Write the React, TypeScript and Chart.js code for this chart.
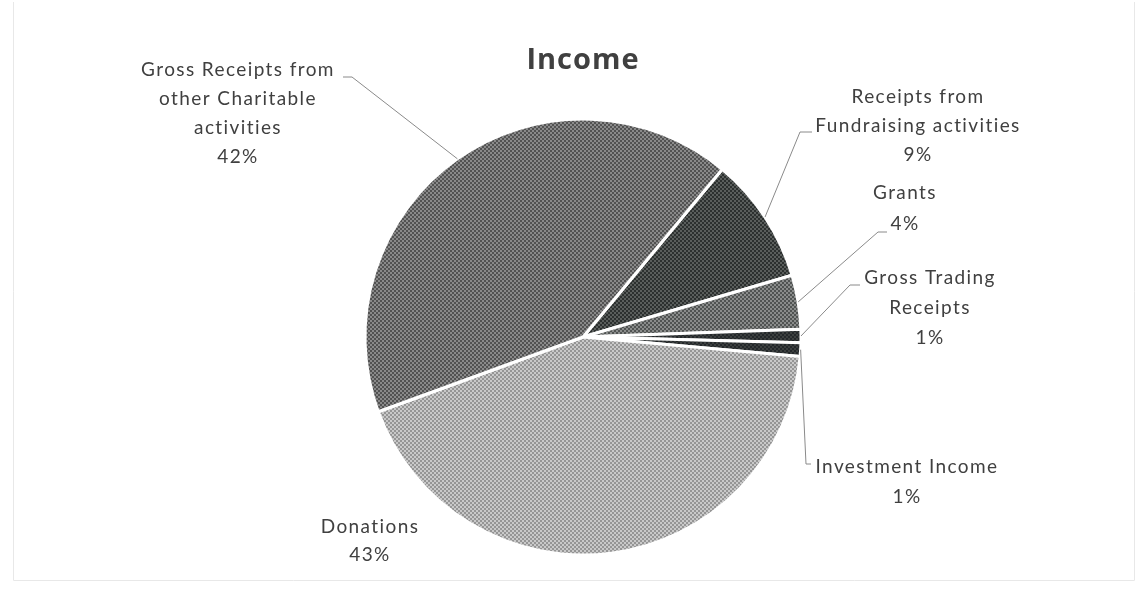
import React, { useEffect, useRef } from "react";
import { Chart, registerables } from "chart.js";

Chart.register(...registerables);

const chartTitle = "Income";
const categories = [
  "Receipts from Fundraising activities",
  "Grants",
  "Gross Trading Receipts",
  "Investment Income",
  "Donations",
  "Gross Receipts from other Charitable activities",
];
const shares = [9.4, 4.0, 1.0, 1.0, 43.0, 41.6];
const labelLines = [
  ["Receipts from", "Fundraising activities"],
  ["Grants"],
  ["Gross Trading", "Receipts"],
  ["Investment Income"],
  ["Donations"],
  ["Gross Receipts from", "other Charitable", "activities"],
];

// styles: [dark dot, light dot] halftone tones
const sliceTones = [
  ["#2c302f", "#5a5e5c"],
  ["#505352", "#8a8c8b"],
  ["#23272a", "#3c403f"],
  ["#23272a", "#3c403f"],
  ["#959595", "#c9c9c9"],
  ["#525252", "#8a8a8a"],
];

// label layout: text centre x, first line y, leader elbow points
const labelLayout = [
  { cx: 918, y: 97, lh: 29, elbow: [[812, 132], [800, 132]] },
  { cx: 905, y: 193, lh: 31, elbow: [[887, 232], [878, 232]] },
  { cx: 930, y: 278, lh: 30, elbow: [[860, 285], [850, 285]] },
  { cx: 907, y: 467, lh: 30, elbow: [[811, 464], [806, 464]] },
  { cx: 370, y: 527, lh: 28, elbow: null },
  { cx: 238, y: 70, lh: 29, elbow: [[343, 77], [352, 77]] },
];

function makePattern(dark: string, light: string): CanvasPattern | string {
  const c = document.createElement("canvas");
  c.width = 4;
  c.height = 4;
  const g = c.getContext("2d");
  if (!g) return dark;
  g.fillStyle = light;
  g.fillRect(0, 0, 4, 4);
  g.fillStyle = dark;
  g.fillRect(0, 0, 2, 2);
  g.fillRect(2, 2, 2, 2);
  const p = g.createPattern(c, "repeat");
  return p || dark;
}

const labelPlugin = {
  id: "excelLabels",
  afterDraw(chart: any) {
    const ctx = chart.ctx as CanvasRenderingContext2D;
    const meta = chart.getDatasetMeta(0);
    const total = shares.reduce((a, b) => a + b, 0);

    ctx.save();
    // faint chart border
    ctx.strokeStyle = "#e8e8e8";
    ctx.lineWidth = 1;
    ctx.beginPath();
    ctx.moveTo(13.5, 2);
    ctx.lineTo(13.5, 580.5);
    ctx.lineTo(1134.5, 580.5);
    ctx.lineTo(1134.5, 2);
    ctx.stroke();

    // title
    ctx.fillStyle = "#404040";
    ctx.font = "bold 29px 'Open Sans', sans-serif";
    ctx.textAlign = "center";
    ctx.textBaseline = "middle";
    (ctx as any).letterSpacing = "1px";
    ctx.fillText(chartTitle, 583, 61);

    meta.data.forEach((arc: any, i: number) => {
      const lay = labelLayout[i];
      const mid = (arc.startAngle + arc.endAngle) / 2;
      const px = arc.x + Math.cos(mid) * arc.outerRadius;
      const py = arc.y + Math.sin(mid) * arc.outerRadius;
      if (lay.elbow) {
        ctx.strokeStyle = "#8a8a8a";
        ctx.lineWidth = 1;
        ctx.beginPath();
        ctx.moveTo(lay.elbow[0][0], lay.elbow[0][1]);
        for (let k = 1; k < lay.elbow.length; k++) ctx.lineTo(lay.elbow[k][0], lay.elbow[k][1]);
        ctx.lineTo(px, py);
        ctx.stroke();
      }
      const pct = Math.round((shares[i] / total) * 100) + "%";
      const lines = [...labelLines[i], pct];
      ctx.fillStyle = "#404040";
      ctx.font = "19px Lato, sans-serif";
      (ctx as any).letterSpacing = "1.4px";
      ctx.textAlign = "center";
      ctx.textBaseline = "middle";
      lines.forEach((t, j) => {
        ctx.fillText(t, lay.cx, lay.y + j * lay.lh);
      });
    });
    ctx.restore();
  },
};

export default function App() {
  const ref = useRef<HTMLCanvasElement | null>(null);
  useEffect(() => {
    if (!ref.current) return;
    const bg = sliceTones.map(([d, l]) => makePattern(d, l));
    const chart = new Chart(ref.current, {
      type: "pie",
      data: {
        labels: categories,
        datasets: [
          {
            data: shares,
            backgroundColor: bg as any,
            borderColor: "#ffffff",
            borderWidth: 3,
            radius: 218,
          } as any,
        ],
      },
      options: {
        animation: false,
        responsive: false,
        rotation: 39.7,
        layout: { padding: { left: 100, right: 71, top: 100, bottom: 18 } },
        plugins: {
          legend: { display: false },
          tooltip: { enabled: false },
          title: { display: false },
        },
      },
      plugins: [labelPlugin],
    });
    return () => chart.destroy();
  }, []);
  return (
    <div style={{ position: "fixed", left: 0, top: 0, width: 1137, height: 592, background: "#ffffff" }}>
      <canvas ref={ref} width={1137} height={592} style={{ width: 1137, height: 592 }} />
    </div>
  );
}
